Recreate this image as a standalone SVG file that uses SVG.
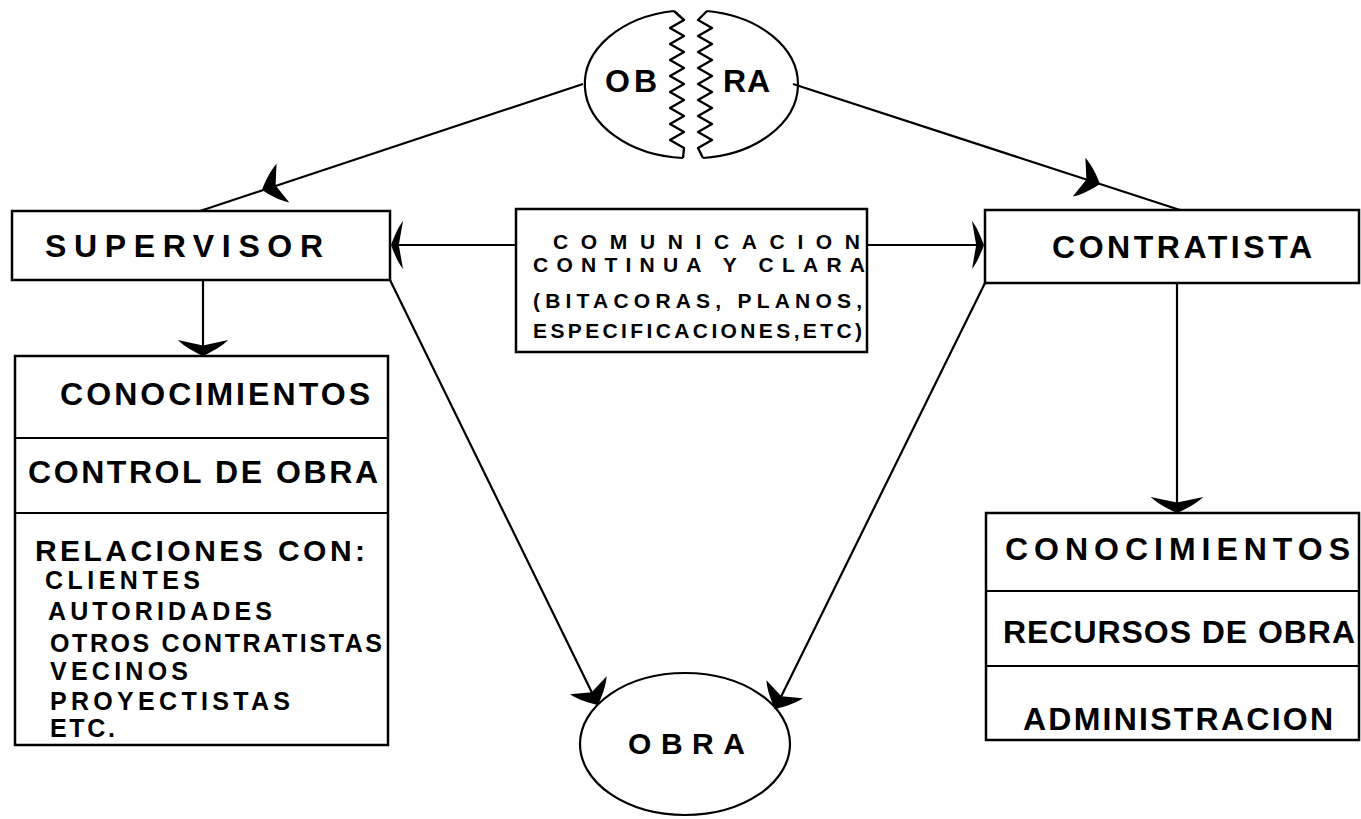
<svg xmlns="http://www.w3.org/2000/svg" xmlns:xlink="http://www.w3.org/1999/xlink" width="1361" height="819" viewBox="0 0 1361 819">
<style>
.box{fill:none;stroke:#000;stroke-width:2.5}
.ln{fill:none;stroke:#000;stroke-width:2.2}
.zz{fill:none;stroke:#000;stroke-width:2.4;stroke-linejoin:round}
text{font-family:"Liberation Sans",Arial,sans-serif;font-weight:bold;fill:#000}
.t32{font-size:32px}
.t30{font-size:30px}
.t25{font-size:25px}
.t20{font-size:21px}
</style>
<defs>
<path id="ah" d="M0,0 C-5,-4 -12,-9 -20,-12 L-13,0 L-20,12 C-12,9 -5,4 0,0 Z" fill="#000"/>
</defs>
<rect width="1361" height="819" fill="#fff"/>

<g id="connectors">
<line class="ln" x1="583" y1="84" x2="200" y2="211"/>
<use xlink:href="#ah" transform="translate(262,190) rotate(161.8) scale(1.1,1.7)"/>
<line class="ln" x1="793" y1="84" x2="1180" y2="210"/>
<use xlink:href="#ah" transform="translate(1100,184) rotate(18) scale(1.1,1.7)"/>
<line class="ln" x1="203" y1="280" x2="203" y2="355"/>
<use xlink:href="#ah" transform="translate(203,356) rotate(90) scale(0.8,2.1)"/>
<line class="ln" x1="1177" y1="283" x2="1177" y2="512"/>
<use xlink:href="#ah" transform="translate(1177,513) rotate(90) scale(0.8,2.2)"/>
<line class="ln" x1="516" y1="245" x2="392" y2="245"/>
<use xlink:href="#ah" transform="translate(391,245) rotate(180) scale(0.6,2)"/>
<line class="ln" x1="867" y1="245" x2="983" y2="245"/>
<use xlink:href="#ah" transform="translate(984,245) scale(0.6,2)"/>
<line class="ln" x1="390" y1="280" x2="598" y2="705"/>
<use xlink:href="#ah" transform="translate(598,705) rotate(63.9) scale(1.1,1.7)"/>
<line class="ln" x1="985" y1="283" x2="775" y2="709"/>
<use xlink:href="#ah" transform="translate(775,709) rotate(116.2) scale(1.1,1.7)"/>
</g>

<g id="obra-split">
<path class="ln" d="M674,11 A105,74 0 0 0 683,158"/>
<path class="ln" d="M707,11 A105,74 0 0 1 703,158"/>
<polyline class="zz" points="674,11 684,20 670,28 684,36 670,44 684,52 670,60 684,68 670,76 684,84 670,92 684,100 670,108 684,116 670,124 684,132 670,140 684,148 683,158"/>
<polyline class="zz" points="707,11 698,20 712,28 698,36 712,44 698,52 712,60 698,68 712,76 698,84 712,92 698,100 712,108 698,116 712,124 698,132 712,140 698,148 703,158"/>
<text class="t32" x="605" y="92" textLength="52" lengthAdjust="spacing">OB</text>
<text class="t32" x="723" y="92" textLength="47" lengthAdjust="spacing">RA</text>
</g>

<g id="supervisor">
<rect class="box" x="12" y="211" width="378" height="69"/>
<text class="t32" x="45" y="257" textLength="278" lengthAdjust="spacing">SUPERVISOR</text>
</g>

<g id="comunicacion">
<rect class="box" x="516" y="209" width="351" height="143"/>
<text class="t20" x="553" y="249" textLength="307" lengthAdjust="spacing">COMUNICACION</text>
<text class="t20" x="533" y="272" textLength="332" lengthAdjust="spacing">CONTINUA Y CLARA</text>
<text class="t20" x="533" y="308" textLength="329" lengthAdjust="spacing">(BITACORAS, PLANOS,</text>
<text class="t20" x="533" y="338" textLength="329" lengthAdjust="spacing">ESPECIFICACIONES,ETC)</text>
</g>

<g id="contratista">
<rect class="box" x="985" y="210" width="374" height="73"/>
<text class="t32" x="1052" y="258" textLength="260" lengthAdjust="spacing">CONTRATISTA</text>
</g>

<g id="supervisor-funciones">
<rect class="box" x="15" y="356" width="373" height="389"/>
<line class="ln" x1="15" y1="438" x2="388" y2="438"/>
<line class="ln" x1="15" y1="513" x2="388" y2="513"/>
<text class="t32" x="60" y="405" textLength="310" lengthAdjust="spacing">CONOCIMIENTOS</text>
<text class="t32" x="28" y="483" textLength="350" lengthAdjust="spacing">CONTROL DE OBRA</text>
<text class="t30" x="35" y="561" textLength="330" lengthAdjust="spacing">RELACIONES CON:</text>
<text class="t25" x="45" y="589" textLength="155" lengthAdjust="spacing">CLIENTES</text>
<text class="t25" x="48" y="620" textLength="224" lengthAdjust="spacing">AUTORIDADES</text>
<text class="t25" x="50" y="652" textLength="332" lengthAdjust="spacing">OTROS CONTRATISTAS</text>
<text class="t25" x="50" y="680" textLength="138" lengthAdjust="spacing">VECINOS</text>
<text class="t25" x="50" y="710" textLength="240" lengthAdjust="spacing">PROYECTISTAS</text>
<text class="t25" x="50" y="737" textLength="65" lengthAdjust="spacing">ETC.</text>
</g>

<g id="contratista-funciones">
<rect class="box" x="986" y="513" width="373" height="227"/>
<line class="ln" x1="986" y1="591" x2="1359" y2="591"/>
<line class="ln" x1="986" y1="666" x2="1359" y2="666"/>
<text class="t32" x="1005" y="560" textLength="345" lengthAdjust="spacing">CONOCIMIENTOS</text>
<text class="t32" x="1003" y="643" textLength="352" lengthAdjust="spacing">RECURSOS DE OBRA</text>
<text class="t32" x="1023" y="730" textLength="310" lengthAdjust="spacing">ADMINISTRACION</text>
</g>

<g id="obra">
<ellipse class="ln" cx="685" cy="744" rx="105" ry="71"/>
<text class="t30" x="628" y="754" textLength="117" lengthAdjust="spacing">OBRA</text>
</g>
</svg>
